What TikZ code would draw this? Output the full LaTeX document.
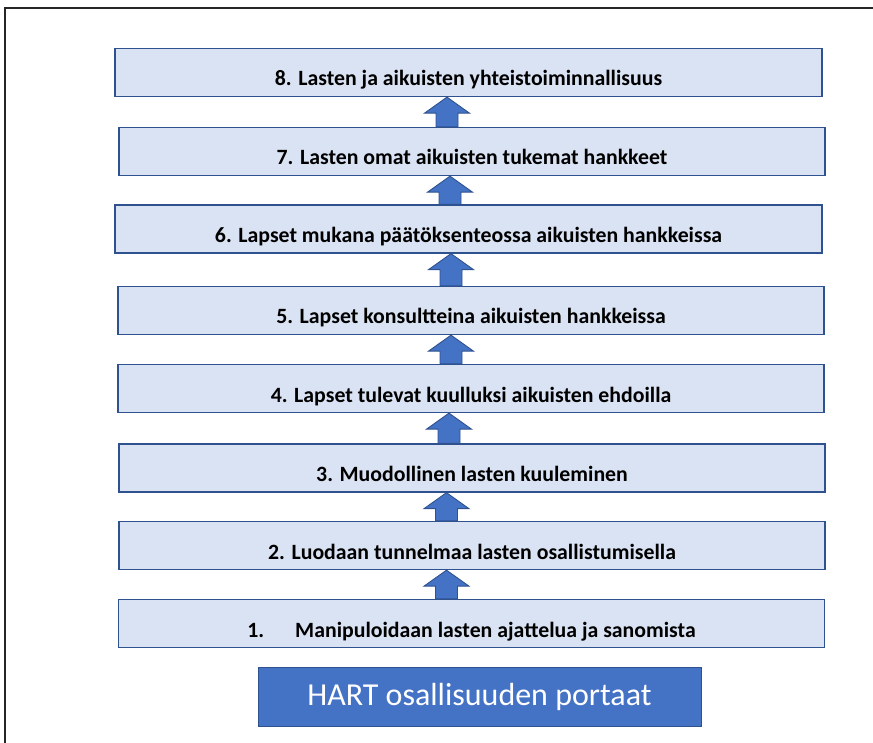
\documentclass[tikz,border=0pt]{standalone}
\usepackage{fontspec}
\setmainfont{Carlito}
\usepackage{tikz}
\usetikzlibrary{calc}
\usepackage{xcolor}
\definecolor{hartpale}{HTML}{DAE3F3}
\definecolor{hartline}{HTML}{2F528F}
\definecolor{hartblue}{HTML}{4472C4}

\begin{document}
\begin{tikzpicture}[
    x=1pt, y=-1pt,
    stepbox/.style={rectangle, draw=hartline, fill=hartpale, line width=1.3pt,
                inner sep=0pt, minimum height=48pt, align=center,
                text height=27pt, text depth=0pt,
                font=\fontsize{21.8}{24}\selectfont\bfseries},
    titlebox/.style={rectangle, draw=hartline, fill=hartblue, line width=1pt,
                inner sep=0pt, minimum width=443pt, minimum height=59pt,
                text=white, font=\fontsize{32}{36}\selectfont},
    uparr/.style={draw=hartline, fill=hartblue, line width=0.9pt,
                to path={let \p1=(\tikztostart), \p2=(\tikztotarget) in
                  (\x1-11pt,\y1) -- (\x1-11pt,\y2-16pt) -- (\x1-22.5pt,\y2-16pt)
                  -- (\x1,\y2) -- (\x1+22.5pt,\y2-16pt) -- (\x1+11pt,\y2-16pt)
                  -- (\x1+11pt,\y1) -- cycle}}
]
\useasboundingbox (0,0) rectangle (873,743);
\draw[line width=1.6pt, black!85] (5,745) -- (5,8) -- (875,8);

\node[stepbox, minimum width=707pt] (s8) at (468.5,72.5) {8. Lasten ja aikuisten yhteistoiminnallisuus};
\node[stepbox, minimum width=706pt] (s7) at (472,151.5) {7. Lasten omat aikuisten tukemat hankkeet};
\node[stepbox, minimum width=707pt] (s6) at (468.5,229) {6. Lapset mukana päätöksenteossa aikuisten hankkeissa};
\node[stepbox, minimum width=706pt] (s5) at (471,310.5) {5. Lapset konsultteina aikuisten hankkeissa};
\node[stepbox, minimum width=706pt] (s4) at (471,388.5) {4. Lapset tulevat kuulluksi aikuisten ehdoilla};
\node[stepbox, minimum width=706pt] (s3) at (472,468) {3. Muodollinen lasten kuuleminen};
\node[stepbox, minimum width=706pt] (s2) at (472,545.5) {2. Luodaan tunnelmaa lasten osallistumisella};
\node[stepbox, minimum width=706pt] (s1) at (471.5,623.5) {1.\hspace*{31pt}Manipuloidaan lasten ajattelua ja sanomista};

\node[titlebox] (hart) at (479.5,696.5) {HART osallisuuden portaat};

% block arrows between the steps
\draw[uparr] (447,0 |- s7.north) to (447,0 |- s8.south);
\draw[uparr] (450,0 |- s6.north) to (450,0 |- s7.south);
\draw[uparr] (451,0 |- s5.north) to (451,0 |- s6.south);
\draw[uparr] (451,0 |- s4.north) to (451,0 |- s5.south);
\draw[uparr] (449,0 |- s3.north) to (449,0 |- s4.south);
\draw[uparr] (446.5,0 |- s2.north) to (446.5,0 |- s3.south);
\draw[uparr] (446.5,0 |- s1.north) to (446.5,0 |- s2.south);
\end{tikzpicture}
\end{document}
